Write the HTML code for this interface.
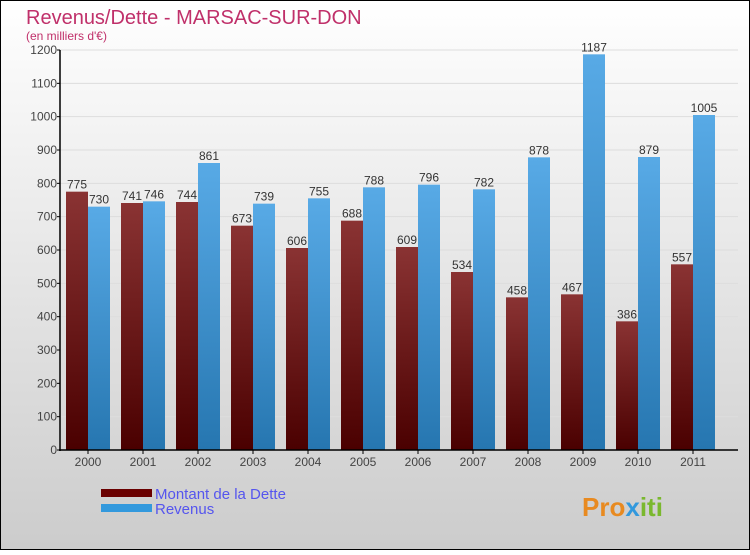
<!DOCTYPE html>
<html><head><meta charset="utf-8"><style>
body{margin:0;width:750px;height:550px;overflow:hidden;font-family:"Liberation Sans",sans-serif}
</style></head><body>
<svg width="750" height="550" xmlns="http://www.w3.org/2000/svg" id="svg">
<defs>
<linearGradient id="bg" x1="0" y1="0" x2="0" y2="1"><stop offset="0" stop-color="#ffffff"/><stop offset="1" stop-color="#cccccc"/></linearGradient>
<linearGradient id="gd" x1="0" y1="0" x2="0" y2="1"><stop offset="0" stop-color="#8a3333"/><stop offset="1" stop-color="#4a0000"/></linearGradient>
<linearGradient id="gr" x1="0" y1="0" x2="0" y2="1"><stop offset="0" stop-color="#58aae6"/><stop offset="1" stop-color="#2676b0"/></linearGradient>
</defs>
<rect x="0.5" y="0.5" width="749" height="549" fill="url(#bg)" stroke="#000"/>
<text x="26" y="24" font-size="20" fill="#c0306a">Revenus/Dette - MARSAC-SUR-DON</text>
<text x="26" y="40" font-size="12" fill="#c0306a">(en milliers d'€)</text>
<g id="grid"></g><g id="bars"></g><g id="axes"></g>
<rect x="101" y="489" width="51" height="8" fill="#6a0000"/>
<text x="155" y="499" font-size="15" fill="#5555ee">Montant de la Dette</text>
<rect x="101" y="504" width="51" height="8" fill="#3399dd"/>
<text x="155" y="514" font-size="15" fill="#5555ee">Revenus</text>
<text x="582" y="516" font-size="26" font-weight="bold" fill="#e88a20">Pro<tspan fill="#3399dd">x</tspan><tspan fill="#7ab82e">iti</tspan></text>
</svg>
<script>
const years=["2000","2001","2002","2003","2004","2005","2006","2007","2008","2009","2010","2011"];
const dette=[775,741,744,673,606,688,609,534,458,467,386,557];
const revenus=[730,746,861,739,755,788,796,782,878,1187,879,1005];
const ticks=[0,100,200,300,400,500,600,700,800,900,1000,1100,1200];
const NS="http://www.w3.org/2000/svg";
const y=v=>450-v*400/1200;
const gx=i=>60.5+55*i;
function mk(t,a,p){const e=document.createElementNS(NS,t);for(const k in a)e.setAttribute(k,a[k]);p.appendChild(e);return e;}
const grid=document.getElementById('grid'),bars=document.getElementById('bars'),axes=document.getElementById('axes');
ticks.forEach(t=>{
 if(t>0){const l=mk('line',{x1:60,x2:738,y1:y(t),y2:y(t),stroke:'#ddd'},grid);
 
 }
 const k=mk('line',{x1:57,x2:60,y1:y(t),y2:y(t),stroke:'#000'},axes);
 
 
 const tx=mk('text',{x:57,y:y(t)+4,'font-size':12,'text-anchor':'end',fill:'#444'},axes);tx.textContent=t;
 
 
});
years.forEach((yr,i)=>{
 const x0=gx(i)+5.5;
 const a=mk('rect',{x:x0,y:y(dette[i]),width:22,height:450-y(dette[i]),fill:'url(#gd)'},bars);
 
 
 const b=mk('rect',{x:x0+22,y:y(revenus[i]),width:22,height:450-y(revenus[i]),fill:'url(#gr)'},bars);
 
 
 const la=mk('text',{x:x0+11,y:y(dette[i])-3,'font-size':12,'text-anchor':'middle',fill:'#333'},bars);la.textContent=dette[i];
 
 
 const lb=mk('text',{x:x0+33,y:y(revenus[i])-3,'font-size':12,'text-anchor':'middle',fill:'#333'},bars);lb.textContent=revenus[i];
 
 
 const tk=mk('line',{x1:x0+22,x2:x0+22,y1:450,y2:454,stroke:'#000'},axes);
 
 
 const xl=mk('text',{x:x0+22,y:466,'font-size':12,'text-anchor':'middle',fill:'#444'},axes);xl.textContent=yr;
 
 
});
const ya=mk('line',{x1:60,x2:60,y1:50,y2:451,stroke:'#000','stroke-width':1.5},axes);


const xa=mk('line',{x1:59,x2:738,y1:450,y2:450,stroke:'#000','stroke-width':1.5},axes);


</script>
</body></html>
